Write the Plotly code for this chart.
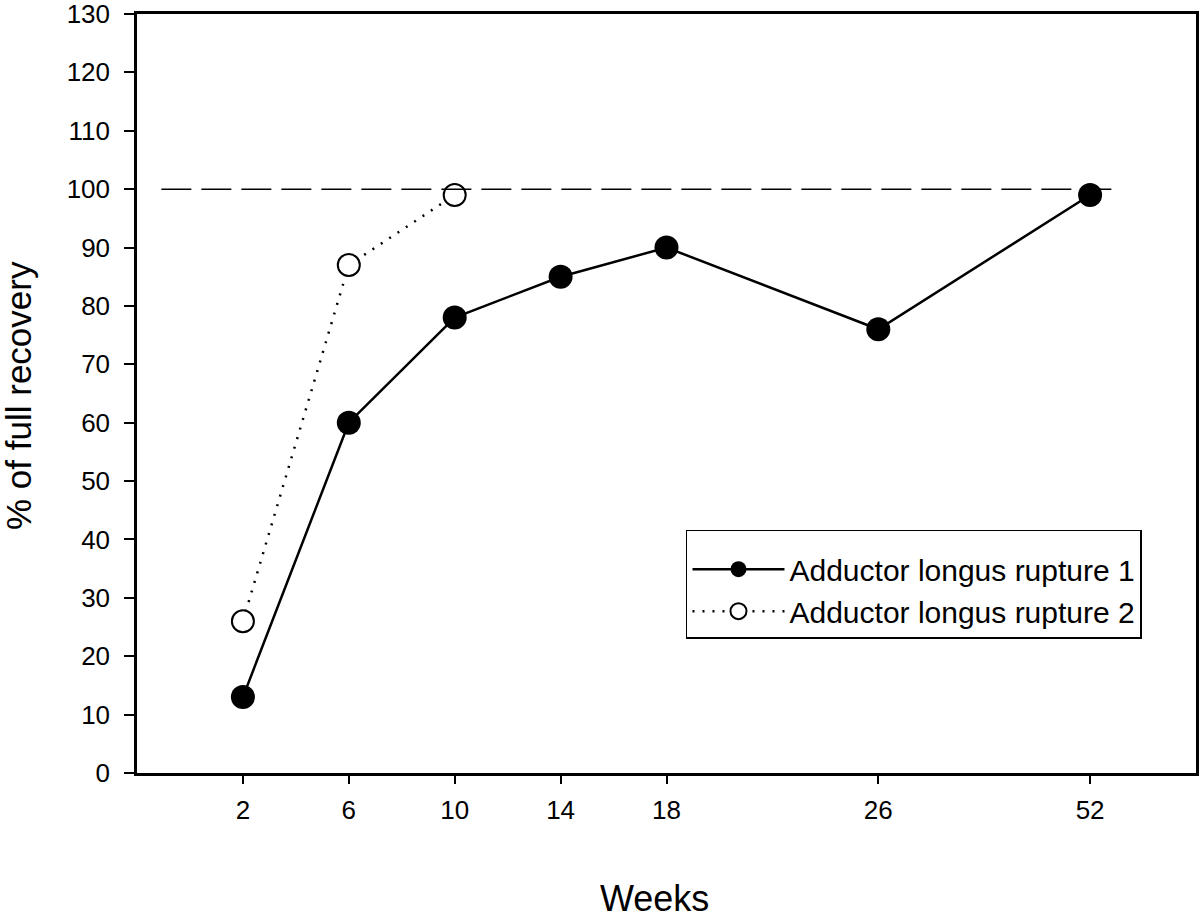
import plotly.graph_objects as go

weeks = [2, 6, 10, 14, 18, 26, 52]
axis_pos = [1, 2, 3, 4, 5, 7, 9]
rupture1 = [13, 60, 78, 85, 90, 76, 99]
rupture2_weeks = [2, 6, 10]
rupture2_pos = [1, 2, 3]
rupture2 = [26, 87, 99]
ref_level = 100
ref_extent = [0.23, 9.25]
y_ticks = list(range(0, 131, 10))

fig = go.Figure()
fig.add_trace(go.Scatter(
    x=axis_pos, y=rupture1, mode="lines+markers",
    name="Adductor longus rupture 1",
    line=dict(color="black", width=2.5),
    marker=dict(symbol="circle", size=24, color="black"),
))
fig.add_trace(go.Scatter(
    x=rupture2_pos, y=rupture2, mode="lines+markers",
    name="Adductor longus rupture 2",
    line=dict(color="black", width=2.5, dash="2px,8px"),
    marker=dict(symbol="circle", size=22, color="white",
                line=dict(color="black", width=2)),
))
fig.add_trace(go.Scatter(
    x=ref_extent, y=[ref_level, ref_level], mode="lines",
    line=dict(color="black", width=1.5, dash="30px,10px"),
    showlegend=False, hoverinfo="skip",
))

fig.update_layout(
    width=1200, height=918,
    margin=dict(l=137, r=4, t=14, b=145),
    paper_bgcolor="white", plot_bgcolor="white",
    font=dict(family="Liberation Sans, Arial, sans-serif", color="black", size=26),
    showlegend=True,
    legend=dict(
        x=0.5184, y=0.3202, xanchor="left", yanchor="top",
        bordercolor="black", borderwidth=1.5, bgcolor="white",
        font=dict(size=30), tracegroupgap=0, itemwidth=92,
        title=dict(text=" ", font=dict(size=9)),
    ),
    xaxis=dict(
        range=[0, 10], tickvals=axis_pos, ticktext=[str(w) for w in weeks],
        showgrid=False, zeroline=False, showline=True, linecolor="black",
        linewidth=2.5, mirror=True, ticks="outside", ticklen=8, tickwidth=2,
        tickcolor="black", tickfont=dict(size=26), automargin=False,
        ticklabelstandoff=4, ticklabeloverflow="allow",
    ),
    yaxis=dict(
        range=[0, 130], tickvals=y_ticks,
        showgrid=False, zeroline=False, showline=True, linecolor="black",
        linewidth=2.5, mirror=True, ticks="outside", ticklen=10, tickwidth=2,
        tickcolor="black", tickfont=dict(size=26), automargin=False,
        ticklabelstandoff=9, ticklabeloverflow="allow",
    ),
    annotations=[
        dict(text="% of full recovery", xref="paper", yref="paper",
             x=-0.1124, y=0.498, xanchor="center", yanchor="middle",
             textangle=-90, showarrow=False, font=dict(size=35)),
        dict(text="Weeks", xref="paper", yref="paper",
             x=0.489, y=-0.165, xanchor="center", yanchor="middle",
             showarrow=False, font=dict(size=36)),
    ],
)

fig.write_html("out.html", config={"displayModeBar": False},
               post_script="document.body.style.margin='0px';")
